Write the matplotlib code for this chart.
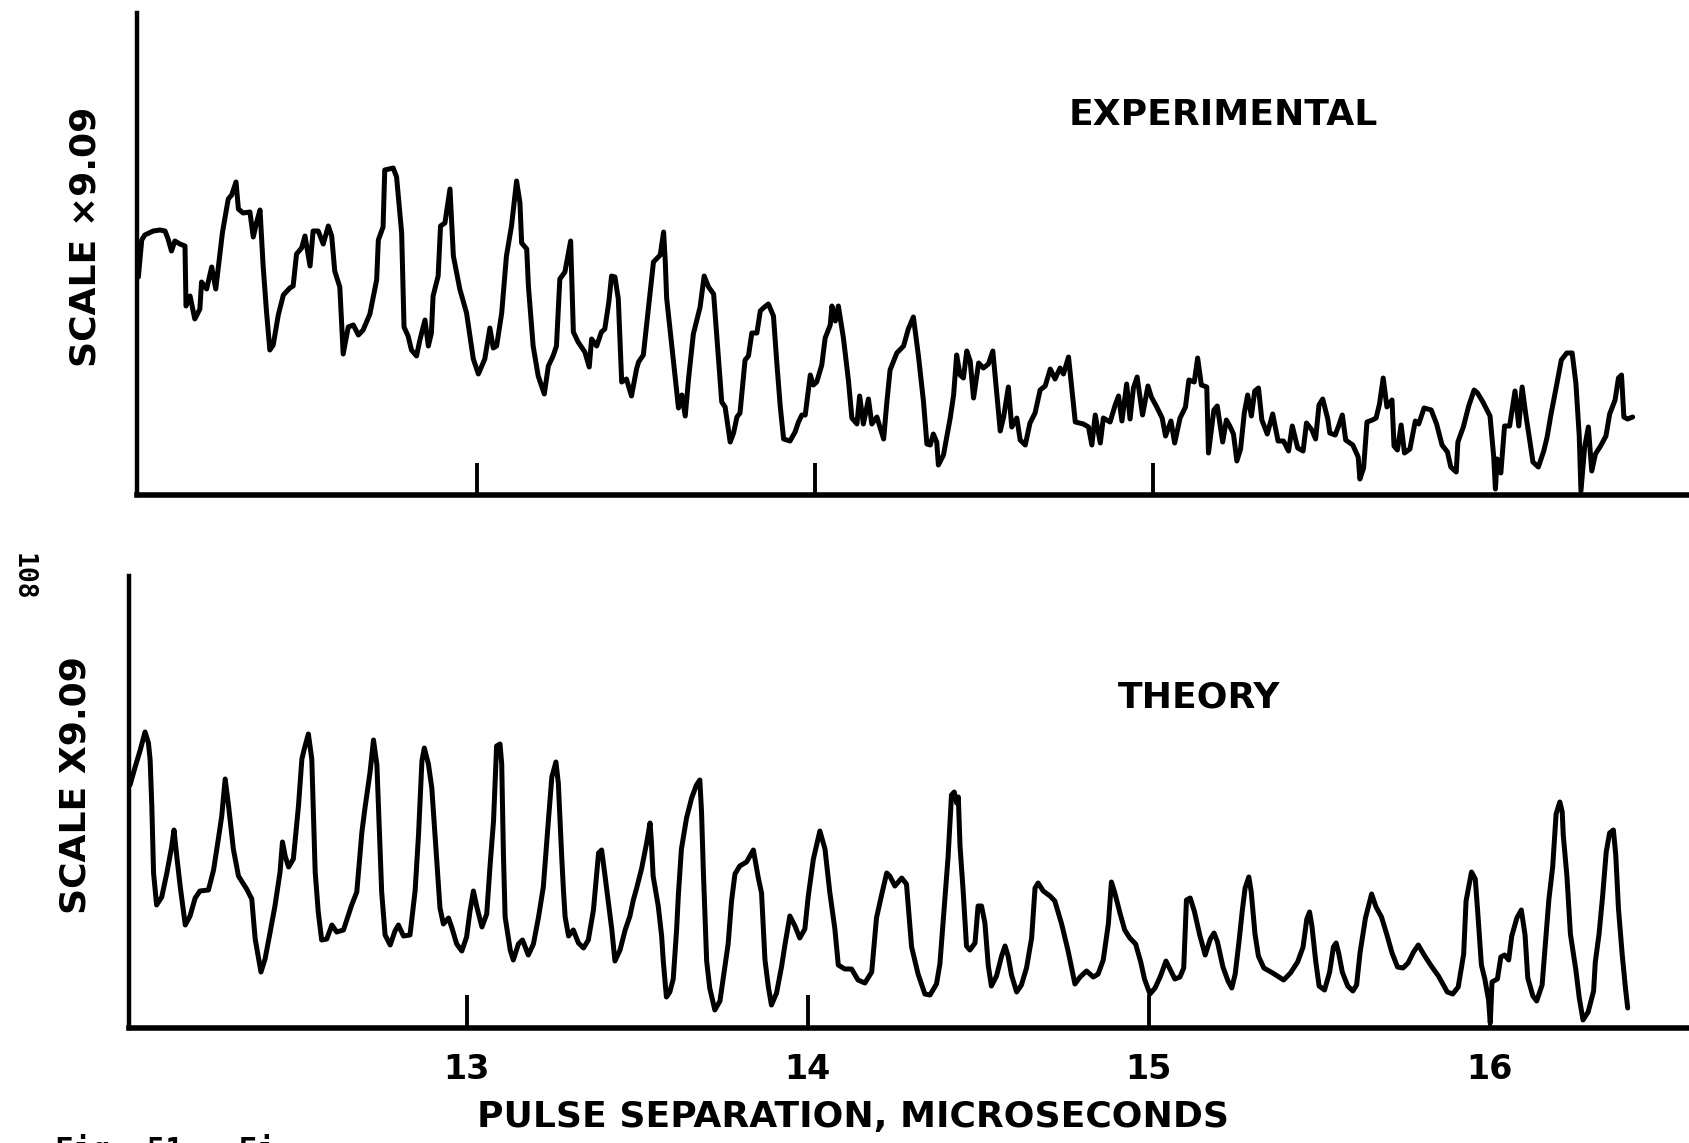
import matplotlib
matplotlib.use("Agg")
import matplotlib.pyplot as plt

# pulse separation (microseconds) and trace height for the measured record
exp_x = [11.998, 12.008, 12.017, 12.042, 12.062, 12.077, 12.086, 12.096, 12.106, 12.121,
         12.136, 12.139, 12.151, 12.165, 12.180, 12.185, 12.200, 12.215, 12.227, 12.234,
         12.247, 12.264, 12.274, 12.287, 12.294, 12.308, 12.328, 12.338, 12.348, 12.358,
         12.367, 12.377, 12.387, 12.397, 12.412, 12.427, 12.446, 12.456, 12.466, 12.481,
         12.491, 12.506, 12.515, 12.530, 12.545, 12.560, 12.570, 12.579, 12.594, 12.604,
         12.619, 12.634, 12.649, 12.663, 12.683, 12.703, 12.708, 12.722, 12.727, 12.752,
         12.762, 12.777, 12.784, 12.796, 12.806, 12.821, 12.831, 12.846, 12.856, 12.865,
         12.870, 12.885, 12.892, 12.905, 12.920, 12.930, 12.949, 12.969, 12.989, 13.004,
         13.023, 13.038, 13.048, 13.058, 13.073, 13.087, 13.102, 13.117, 13.127, 13.132,
         13.147, 13.152, 13.166, 13.181, 13.199, 13.211, 13.225, 13.235, 13.245, 13.260,
         13.277, 13.285, 13.299, 13.319, 13.332, 13.339, 13.354, 13.368, 13.378, 13.390,
         13.398, 13.408, 13.418, 13.428, 13.442, 13.457, 13.472, 13.478, 13.492, 13.507,
         13.522, 13.542, 13.552, 13.557, 13.561, 13.576, 13.596, 13.606, 13.616, 13.626,
         13.640, 13.660, 13.672, 13.685, 13.700, 13.714, 13.724, 13.734, 13.749, 13.759,
         13.769, 13.778, 13.793, 13.803, 13.813, 13.828, 13.838, 13.847, 13.862, 13.877,
         13.887, 13.897, 13.907, 13.926, 13.941, 13.951, 13.961, 13.971, 13.986, 13.995,
         14.005, 14.020, 14.030, 14.045, 14.050, 14.060, 14.069, 14.084, 14.099, 14.109,
         14.124, 14.132, 14.143, 14.158, 14.168, 14.183, 14.203, 14.212, 14.222, 14.242,
         14.262, 14.276, 14.291, 14.306, 14.321, 14.331, 14.341, 14.350, 14.360, 14.365,
         14.380, 14.400, 14.410, 14.419, 14.429, 14.439, 14.449, 14.459, 14.469, 14.484,
         14.498, 14.513, 14.526, 14.538, 14.548, 14.558, 14.572, 14.582, 14.597, 14.607,
         14.622, 14.636, 14.651, 14.666, 14.681, 14.696, 14.710, 14.725, 14.735, 14.750,
         14.760, 14.770, 14.794, 14.809, 14.819, 14.829, 14.844, 14.853, 14.873, 14.888,
         14.898, 14.908, 14.922, 14.932, 14.942, 14.953, 14.969, 14.985, 14.995, 15.011,
         15.027, 15.037, 15.053, 15.064, 15.080, 15.096, 15.106, 15.122, 15.132, 15.143,
         15.159, 15.164, 15.180, 15.190, 15.206, 15.217, 15.227, 15.238, 15.248, 15.259,
         15.270, 15.280, 15.291, 15.301, 15.312, 15.322, 15.338, 15.354, 15.370, 15.386,
         15.401, 15.412, 15.428, 15.444, 15.454, 15.470, 15.481, 15.491, 15.502, 15.517,
         15.523, 15.539, 15.549, 15.560, 15.570, 15.591, 15.607, 15.612, 15.623, 15.633,
         15.649, 15.660, 15.670, 15.681, 15.692, 15.707, 15.713, 15.723, 15.734, 15.744,
         15.760, 15.776, 15.786, 15.802, 15.823, 15.839, 15.855, 15.871, 15.881, 15.897,
         15.902, 15.918, 15.934, 15.950, 15.960, 15.976, 15.997, 16.008, 16.013, 16.018,
         16.029, 16.040, 16.055, 16.071, 16.082, 16.092, 16.103, 16.113, 16.124, 16.140,
         16.156, 16.166, 16.177, 16.193, 16.208, 16.224, 16.240, 16.251, 16.261, 16.266,
         16.277, 16.288, 16.298, 16.309, 16.324, 16.340, 16.351, 16.367, 16.377, 16.386,
         16.393, 16.404, 16.419]
exp_y = [218, 255, 260, 264, 265, 264, 256, 244, 254, 251,
         249, 189, 199, 176, 186, 213, 206, 228, 206, 226,
         263, 296, 300, 313, 286, 282, 283, 258, 273, 285,
         230, 184, 145, 150, 180, 200, 207, 209, 241, 247,
         259, 229, 264, 264, 251, 269, 259, 224, 208, 141,
         168, 170, 160, 165, 181, 215, 255, 268, 325, 327,
         318, 262, 168, 159, 145, 139, 155, 175, 149, 162,
         199, 219, 269, 272, 306, 239, 206, 182, 136, 121,
         136, 167, 147, 149, 182, 239, 269, 314, 292, 252,
         246, 209, 149, 119, 101, 129, 139, 149, 216, 223,
         254, 163, 153, 143, 128, 156, 149, 163, 166, 193,
         219, 218, 196, 113, 116, 99, 126, 133, 140, 186,
         233, 240, 263, 233, 197, 150, 87, 100, 79, 117,
         161, 188, 219, 208, 201, 138, 93, 88, 53, 62,
         78, 82, 135, 139, 162, 162, 184, 187, 191, 179,
         132, 89, 56, 54, 63, 73, 80, 80, 120, 110,
         113, 130, 157, 170, 189, 174, 189, 157, 114, 77,
         71, 99, 71, 96, 71, 78, 56, 91, 125, 142,
         149, 166, 178, 139, 93, 51, 50, 61, 53, 30,
         40, 77, 100, 140, 120, 117, 144, 134, 97, 132,
         127, 131, 144, 101, 64, 78, 108, 68, 77, 55,
         50, 72, 82, 105, 109, 126, 116, 127, 121, 138,
         106, 73, 71, 68, 50, 80, 52, 77, 73, 90,
         99, 74, 111, 76, 107, 118, 80, 109, 98, 88,
         77, 59, 74, 52, 77, 88, 115, 113, 137, 110,
         108, 42, 85, 89, 53, 75, 69, 61, 34, 46,
         82, 100, 79, 104, 107, 75, 61, 81, 54, 54,
         44, 69, 47, 44, 72, 65, 56, 90, 96, 76,
         62, 60, 69, 80, 55, 50, 38, 16, 27, 73,
         75, 77, 91, 117, 88, 95, 49, 45, 70, 42,
         46, 74, 71, 87, 85, 71, 50, 43, 28, 23,
         53, 68, 89, 105, 102, 93, 79, 38, 6, 36,
         22, 69, 69, 104, 69, 108, 80, 58, 33, 28,
         44, 58, 80, 108, 135, 142, 142, 112, 59, 4,
         48, 68, 24, 41, 49, 59, 81, 95, 117, 120,
         78, 76, 78]

# computed response over the same range
theory_x = [12.008, 12.013, 12.028, 12.043, 12.057, 12.067, 12.072, 12.077, 12.082, 12.091,
            12.106, 12.121, 12.135, 12.142, 12.150, 12.160, 12.175, 12.189, 12.204, 12.218,
            12.243, 12.258, 12.272, 12.282, 12.292, 12.302, 12.316, 12.331, 12.355, 12.370,
            12.380, 12.397, 12.409, 12.424, 12.438, 12.453, 12.460, 12.468, 12.478, 12.492,
            12.507, 12.517, 12.524, 12.536, 12.546, 12.556, 12.565, 12.575, 12.590, 12.605,
            12.619, 12.639, 12.663, 12.678, 12.693, 12.702, 12.717, 12.727, 12.737, 12.751,
            12.761, 12.776, 12.790, 12.800, 12.815, 12.834, 12.849, 12.859, 12.869, 12.876,
            12.888, 12.898, 12.908, 12.922, 12.932, 12.947, 12.957, 12.971, 12.986, 13.000,
            13.010, 13.020, 13.030, 13.045, 13.059, 13.069, 13.079, 13.088, 13.098, 13.103,
            13.108, 13.113, 13.128, 13.137, 13.152, 13.164, 13.181, 13.196, 13.211, 13.225,
            13.240, 13.250, 13.262, 13.269, 13.279, 13.284, 13.289, 13.299, 13.313, 13.328,
            13.343, 13.357, 13.372, 13.387, 13.396, 13.406, 13.416, 13.426, 13.435, 13.450,
            13.465, 13.479, 13.489, 13.498, 13.513, 13.528, 13.538, 13.542, 13.547, 13.562,
            13.572, 13.577, 13.586, 13.596, 13.606, 13.616, 13.621, 13.630, 13.645, 13.660,
            13.674, 13.684, 13.689, 13.694, 13.704, 13.713, 13.728, 13.743, 13.757, 13.767,
            13.777, 13.787, 13.801, 13.821, 13.841, 13.855, 13.865, 13.875, 13.885, 13.894,
            13.909, 13.924, 13.933, 13.948, 13.963, 13.977, 13.992, 14.002, 14.017, 14.036,
            14.051, 14.065, 14.080, 14.090, 14.109, 14.129, 14.148, 14.168, 14.188, 14.202,
            14.217, 14.232, 14.241, 14.256, 14.276, 14.290, 14.305, 14.324, 14.344, 14.359,
            14.378, 14.388, 14.403, 14.412, 14.422, 14.430, 14.437, 14.442, 14.447, 14.456,
            14.466, 14.476, 14.491, 14.500, 14.510, 14.520, 14.530, 14.539, 14.554, 14.569,
            14.579, 14.588, 14.598, 14.613, 14.627, 14.642, 14.657, 14.667, 14.676, 14.691,
            14.711, 14.725, 14.745, 14.764, 14.784, 14.799, 14.818, 14.838, 14.852, 14.867,
            14.882, 14.891, 14.901, 14.916, 14.930, 14.945, 14.962, 14.977, 14.988, 15.004,
            15.019, 15.035, 15.051, 15.061, 15.077, 15.092, 15.103, 15.111, 15.122, 15.134,
            15.150, 15.166, 15.181, 15.192, 15.202, 15.218, 15.233, 15.244, 15.254, 15.265,
            15.275, 15.283, 15.294, 15.301, 15.312, 15.322, 15.338, 15.364, 15.396, 15.416,
            15.437, 15.453, 15.464, 15.472, 15.479, 15.490, 15.500, 15.516, 15.531, 15.542,
            15.550, 15.558, 15.568, 15.584, 15.599, 15.610, 15.620, 15.636, 15.654, 15.667,
            15.683, 15.699, 15.714, 15.730, 15.746, 15.761, 15.777, 15.791, 15.808, 15.829,
            15.850, 15.876, 15.892, 15.908, 15.924, 15.931, 15.947, 15.958, 15.965, 15.976,
            15.986, 15.997, 16.002, 16.007, 16.023, 16.033, 16.044, 16.056, 16.065, 16.080,
            16.093, 16.104, 16.112, 16.127, 16.138, 16.154, 16.164, 16.174, 16.185, 16.195,
            16.206, 16.213, 16.216, 16.227, 16.237, 16.253, 16.263, 16.274, 16.289, 16.305,
            16.310, 16.321, 16.331, 16.342, 16.352, 16.363, 16.370, 16.378, 16.389, 16.399,
            16.405]
theory_y = [241, 243, 261, 278, 296, 285, 268, 221, 155, 123,
            131, 155, 181, 198, 172, 142, 103, 112, 130, 137,
            138, 158, 189, 212, 249, 222, 179, 152, 139, 129,
            89, 56, 69, 96, 122, 156, 186, 172, 161, 169,
            222, 269, 279, 294, 269, 156, 116, 88, 89, 103,
            96, 98, 123, 136, 196, 220, 256, 288, 263, 136,
            93, 83, 97, 103, 92, 93, 137, 193, 267, 280,
            264, 240, 190, 120, 104, 110, 100, 84, 77, 91,
            117, 137, 121, 101, 114, 163, 207, 282, 284, 264,
            174, 111, 78, 68, 84, 88, 73, 84, 111, 141,
            208, 251, 266, 245, 171, 138, 111, 92, 98, 85,
            80, 88, 118, 175, 178, 152, 125, 98, 67, 78,
            98, 112, 128, 139, 159, 185, 205, 186, 152, 122,
            92, 66, 31, 36, 49, 99, 133, 179, 210, 230,
            243, 248, 216, 160, 67, 40, 18, 27, 60, 84,
            127, 154, 162, 166, 178, 151, 135, 68, 41, 23,
            35, 62, 82, 112, 102, 90, 99, 132, 169, 197,
            179, 136, 99, 63, 59, 59, 48, 45, 56, 110,
            133, 155, 152, 142, 150, 144, 81, 54, 34, 33,
            44, 64, 131, 171, 233, 236, 225, 231, 182, 138,
            82, 78, 85, 122, 122, 105, 62, 42, 52, 72,
            82, 72, 53, 36, 43, 60, 90, 140, 145, 137,
            132, 127, 104, 77, 44, 51, 57, 51, 54, 68,
            104, 146, 135, 115, 98, 90, 84, 66, 49, 34,
            40, 52, 67, 60, 49, 51, 60, 128, 130, 117,
            93, 73, 89, 95, 86, 61, 47, 40, 54, 86,
            118, 140, 151, 136, 94, 72, 60, 55, 48, 55,
            66, 81, 109, 116, 102, 67, 42, 38, 56, 81,
            85, 74, 56, 42, 37, 43, 75, 110, 134, 121,
            111, 93, 75, 61, 60, 65, 76, 83, 73, 62,
            52, 36, 34, 41, 74, 127, 156, 149, 117, 63,
            49, 28, 5, 46, 49, 71, 73, 68, 92, 110,
            118, 93, 50, 32, 27, 43, 86, 129, 161, 214,
            226, 216, 193, 151, 94, 58, 30, 8, 16, 37,
            66, 94, 130, 176, 195, 198, 173, 119, 73, 38,
            20]

top_ticks = [13, 14, 15]
bottom_ticks = [13, 14, 15, 16]
bottom_ticklabels = ["13", "14", "15", "16"]

W, H = 1689, 1143
fig = plt.figure(figsize=(W / 100, H / 100), dpi=100)
fig.patch.set_facecolor("white")

ink = "black"
font = ["DejaVu Sans"]
trace = dict(color=ink, lw=3.6, solid_joinstyle="round", solid_capstyle="round")


def panel(rect, xlim, ylim, ticks, tick_len):
    ax = fig.add_axes(rect)
    ax.set_xlim(*xlim)
    ax.set_ylim(*ylim)
    for s in ("top", "right"):
        ax.spines[s].set_visible(False)
    ax.spines["left"].set_linewidth(3.2)
    ax.spines["bottom"].set_linewidth(4.0)
    ax.spines["left"].set_color(ink)
    ax.spines["bottom"].set_color(ink)
    ax.set_yticks([])
    ax.set_xticks(ticks)
    ax.tick_params(axis="x", direction="in", length=tick_len, width=2.8, color=ink)
    ax.set_facecolor("none")
    return ax


# upper panel: measured trace
ax1 = panel([137 / W, (H - 495) / H, (W - 137) / W, (495 - 13) / H],
            (11.994, 11.994 + (W - 137) / 338), (0, 482), top_ticks, 23)
ax1.set_xticklabels([])
ax1.plot(exp_x, exp_y, **trace)

# lower panel: theory
ax2 = panel([129 / W, (H - 1028) / H, (W - 129) / W, (1028 - 576) / H],
            (12.01, 12.01 + (W - 129) / 341), (0, 452), bottom_ticks, 24)
ax2.set_xticklabels(bottom_ticklabels, fontsize=24, family=font, fontweight="bold")
ax2.tick_params(axis="x", pad=18)
ax2.plot(theory_x, theory_y, **trace)

label = dict(family=font, fontweight="bold", color=ink, ha="center", va="center")
fig.text(1223 / W, 1 - 115 / H, "EXPERIMENTAL", fontsize=26, **label)
fig.text(1199 / W, 1 - 698 / H, "THEORY", fontsize=26, **label)
fig.text(86 / W, 1 - 237 / H, "SCALE \u00d79.09", fontsize=26, rotation=90, **label)
fig.text(75 / W, 1 - 785 / H, "SCALE X9.09", fontsize=26, rotation=90, **label)
fig.text(853 / W, 1 - 1117 / H, "PULSE SEPARATION, MICROSECONDS", fontsize=26, **label)

# page number and the caption running off the bottom edge
fig.text(23 / W, 1 - 577 / H, "108", fontsize=19, family=["DejaVu Sans Mono"],
         fontweight="bold", rotation=-90, ha="center", va="center", color=ink)
fig.text(55 / W, 1 - 1134 / H, "Fig. 51.  Ei", fontsize=22, family=["DejaVu Sans Mono"],
         fontweight="bold", ha="left", va="top", color=ink)

fig.savefig("out.png", dpi=100, facecolor="white")
